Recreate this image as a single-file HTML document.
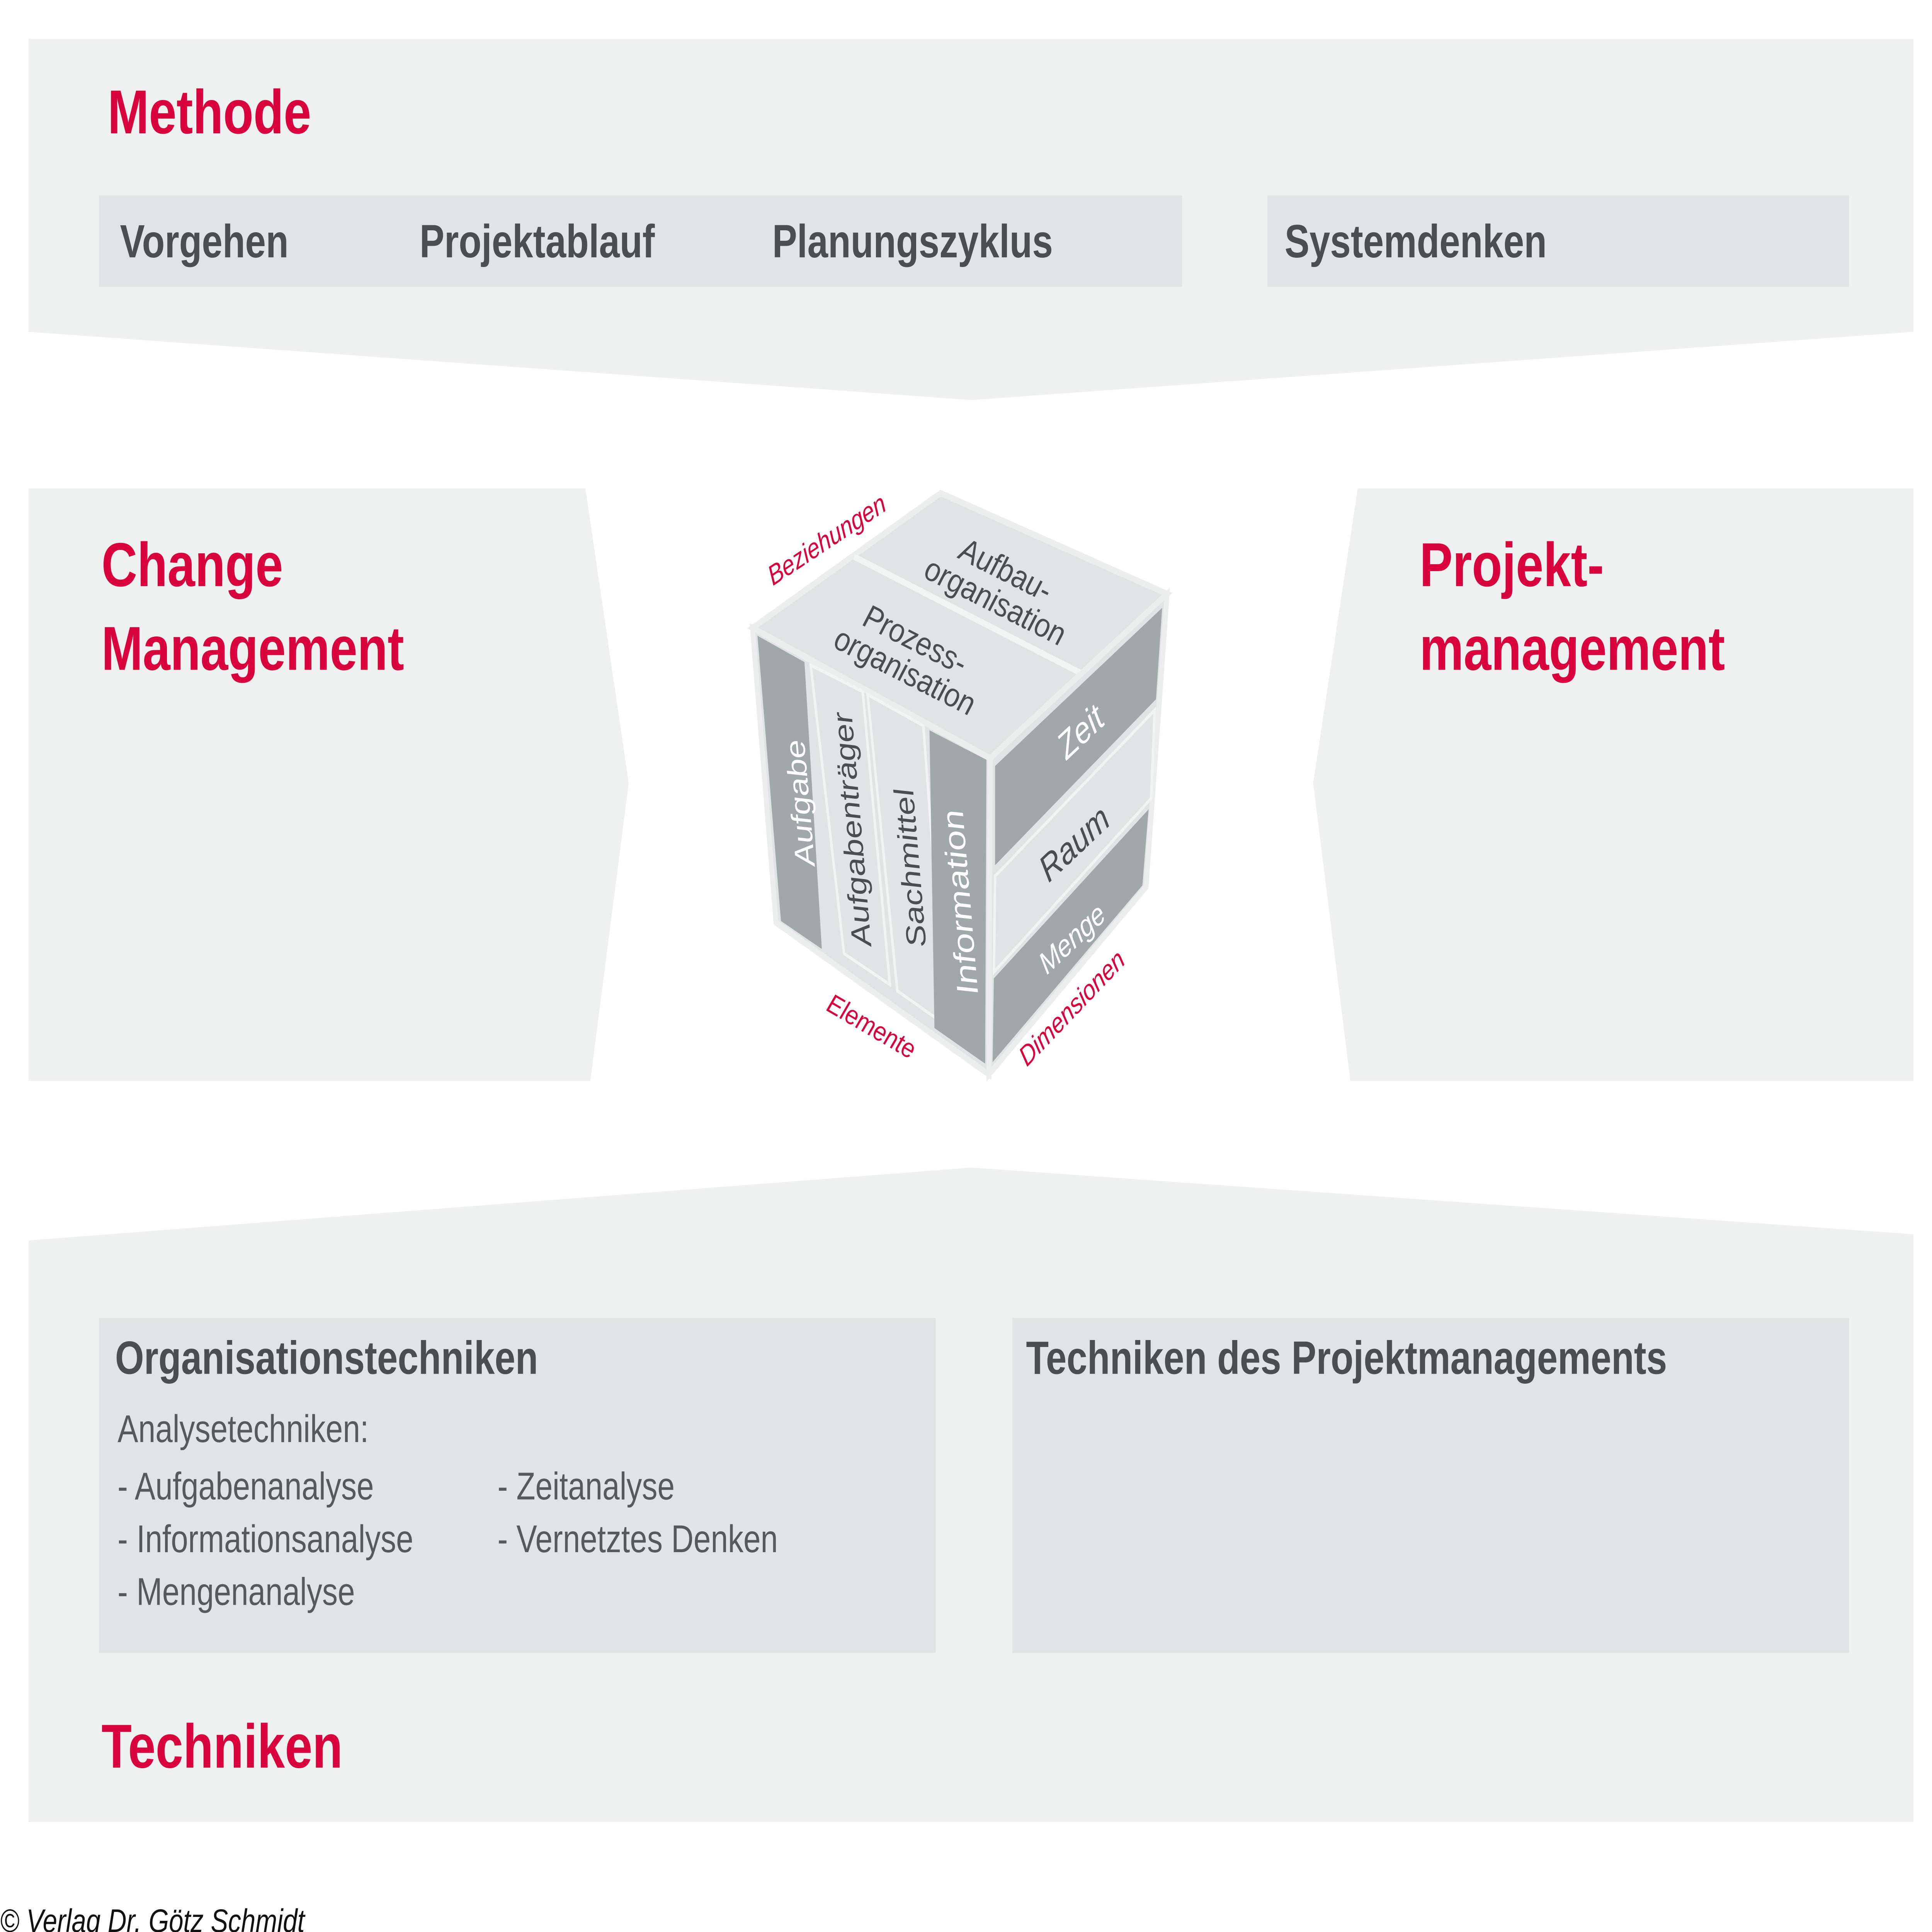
<!DOCTYPE html>
<html><head><meta charset="utf-8"><style>
html,body{margin:0;padding:0;background:#fff;width:100%;height:100%;overflow:hidden;}
svg{display:block;width:100vw;height:100vh;}
text{font-family:"Liberation Sans",sans-serif;}
.r{fill:#d9043d;font-weight:bold;}
.g{fill:#474f4f;font-weight:bold;}
.n{fill:#545b5b;}
.cw{fill:#ffffff;font-style:italic;}
.cd{fill:#474f4f;font-style:italic;}
.cr{fill:#d9043d;font-style:italic;}
</style></head><body>
<svg viewBox="0 0 1561 1246" preserveAspectRatio="none" xmlns="http://www.w3.org/2000/svg">
<rect width="1561" height="1246" fill="#fff"/>
<polygon points="23,25 1546,25 1546,214 785,258 23,214" fill="#eff0f0"/>
<rect x="80" y="126" width="875" height="59" fill="#e1e4e5"/>
<rect x="1024" y="126" width="470" height="59" fill="#e1e4e5"/>
<text x="87" y="86" class="r" font-size="40">Methode</text>
<text x="97" y="166" class="g" font-size="30">Vorgehen</text>
<text x="339" y="166" class="g" font-size="30">Projektablauf</text>
<text x="624" y="166" class="g" font-size="30">Planungszyklus</text>
<text x="1038" y="166" class="g" font-size="30">Systemdenken</text>
<polygon points="23,315 473,315 508,505 477,697 23,697" fill="#eff0f0"/>
<polygon points="1097,315 1546,315 1546,697 1091,697 1061,505" fill="#eff0f0"/>
<text x="82" y="378" class="r" font-size="40">Change</text>
<text x="82" y="432" class="r" font-size="40">Management</text>
<text x="1147" y="378" class="r" font-size="40">Projekt-</text>
<text x="1147" y="432" class="r" font-size="40">management</text>
<polygon points="23,800 785,753 1546,796 1546,1175 23,1175" fill="#eff0f0"/>
<rect x="80" y="850" width="676" height="216" fill="#e1e4e5"/>
<rect x="818" y="850" width="676" height="216" fill="#e1e4e5"/>
<text x="93" y="886" class="g" font-size="30">Organisationstechniken</text>
<text x="829" y="886" class="g" font-size="30">Techniken des Projektmanagements</text>
<text x="95" y="930" class="n" font-size="25">Analysetechniken:</text>
<text x="95" y="967" class="n" font-size="25">- Aufgabenanalyse</text>
<text x="95" y="1001" class="n" font-size="25">- Informationsanalyse</text>
<text x="95" y="1035" class="n" font-size="25">- Mengenanalyse</text>
<text x="402" y="967" class="n" font-size="25">- Zeitanalyse</text>
<text x="402" y="1001" class="n" font-size="25">- Vernetztes Denken</text>
<text x="82" y="1140" class="r" font-size="40">Techniken</text>
<text x="0" y="1246" font-size="21" font-style="italic" fill="#111">© Verlag Dr. Götz Schmidt</text>
<polygon points="608,405 760,318 943,383 800,489" fill="#e1e4e5" stroke="#eceeee" stroke-width="4"/>
<line x1="690" y1="359" x2="873" y2="434" stroke="#f2f3f3" stroke-width="4"/>
<polygon points="608,405 800,489 799,693 627,595" fill="#e1e4e5" stroke="#eceeee" stroke-width="4"/>
<polygon points="800,489 943,383 926,572 799,693" fill="#e1e4e5" stroke="#eceeee" stroke-width="4"/>
<polygon points="612,410 650,427 664,612 631,594" fill="#a1a8aa"/>
<polygon points="655,429 697,446 719,635 682,615" fill="#e1e4e5" stroke="#f2f3f3" stroke-width="2"/>
<polygon points="701,448 746,468 764,661 725,639" fill="#e1e4e5" stroke="#f2f3f3" stroke-width="2"/>
<polygon points="751,471 797,490 796,686 755,663" fill="#a1a8aa"/>
<polygon points="804,494 939,392 934,451 804,558" fill="#a1a8aa"/>
<polygon points="804,565 933,458 930,515 803,627" fill="#e1e4e5" stroke="#f2f3f3" stroke-width="2"/>
<polygon points="803,631 928,522 923,571 802,685" fill="#a1a8aa"/>
<g transform="translate(808,378) rotate(22)"><text text-anchor="middle" class="cd" font-size="22" y="-4">Aufbau-</text><text text-anchor="middle" class="cd" font-size="22" y="18">organisation</text></g>
<g transform="translate(735,423) rotate(22)"><text text-anchor="middle" class="cd" font-size="22" y="-4">Prozess-</text><text text-anchor="middle" class="cd" font-size="22" y="18">organisation</text></g>
<g transform="translate(646,518) rotate(-96)"><text text-anchor="middle" class="cw" font-size="22" y="8">Aufgabe</text></g>
<g transform="translate(688,535) rotate(-96)"><text text-anchor="middle" class="cd" font-size="22" y="8">Aufgabenträger</text></g>
<g transform="translate(735,560) rotate(-96)"><text text-anchor="middle" class="cd" font-size="22" y="8">Sachmittel</text></g>
<g transform="translate(776,582) rotate(-96)"><text text-anchor="middle" class="cw" font-size="24" y="8">Information</text></g>
<g transform="translate(873,472) rotate(-37)"><text text-anchor="middle" class="cw" font-size="24" y="8">Zeit</text></g>
<g transform="translate(868,544) rotate(-37)"><text text-anchor="middle" class="cd" font-size="24" y="8">Raum</text></g>
<g transform="translate(866,605) rotate(-37)"><text text-anchor="middle" class="cw" font-size="20" y="7">Menge</text></g>
<g transform="translate(668,348) rotate(-28)"><text text-anchor="middle" class="cr" font-size="18" y="6">Beziehungen</text></g>
<g transform="translate(704,662) rotate(25)"><text text-anchor="middle" class="cr" font-size="18" y="6" font-style="normal">Elemente</text></g>
<g transform="translate(866,650) rotate(-40)"><text text-anchor="middle" class="cr" font-size="18" y="6">Dimensionen</text></g>
</svg>
</body></html>
